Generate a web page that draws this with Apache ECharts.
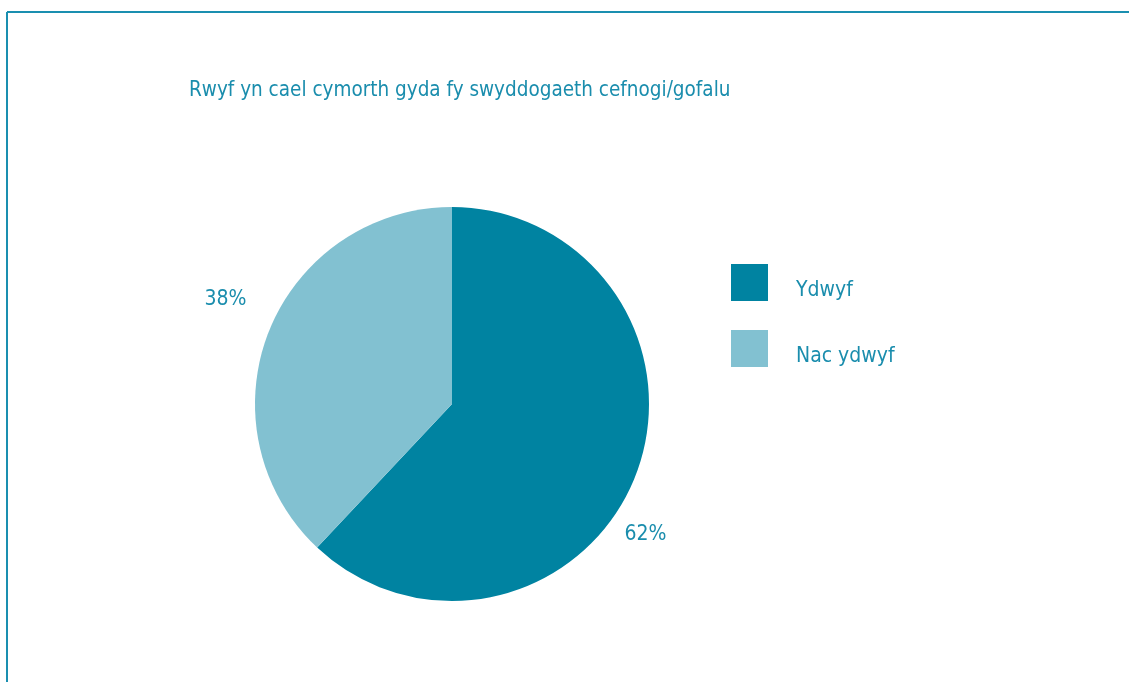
<!DOCTYPE html>
<html>
<head>
<meta charset="utf-8">
<script src="https://cdn.jsdelivr.net/npm/echarts@6/dist/echarts.min.js"></script>
<style>
html,body{margin:0;padding:0;background:#fff;}
#chart{width:1129px;height:682px;}
</style>
</head>
<body>
<div id="chart"></div>
<script>
var titleText = 'Rwyf yn cael cymorth gyda fy swyddogaeth cefnogi/gofalu';
var categories = ['Ydwyf', 'Nac ydwyf'];
var values = [62, 38];
var colors = ['#0083A1', '#82C1D1'];

var FONT = '"Liberation Sans Narrow", "DejaVu Sans Condensed", "Roboto", sans-serif';
var TEXT = '#1A8DAD';
var labelOffsets = [[-25, 54], [-8, -28]];

var chart = echarts.init(document.getElementById('chart'));
chart.setOption({
  animation: false,
  title: {
    text: titleText,
    left: 184,
    top: 75,
    textStyle: { fontFamily: FONT, fontSize: 20.5, fontWeight: 'normal', color: TEXT }
  },
  legend: {
    orient: 'vertical',
    left: 726,
    top: 259,
    icon: 'rect',
    itemWidth: 37,
    itemHeight: 37,
    itemGap: 29,
    formatter: '{a|{name}}',
    textStyle: {
      fontFamily: FONT, fontSize: 21, color: TEXT, padding: [0, 0, 0, 23],
      rich: { a: { fontFamily: FONT, fontSize: 21, color: TEXT, padding: [16, 0, 0, 0] } }
    },
    data: categories
  },
  graphic: [
    { type: 'line', shape: { x1: 7, y1: 12, x2: 1129, y2: 12 }, style: { stroke: '#1A8FB0', lineWidth: 2 } },
    { type: 'line', shape: { x1: 7, y1: 12, x2: 7, y2: 682 }, style: { stroke: '#1A8FB0', lineWidth: 2 } }
  ],
  series: [{
    type: 'pie',
    center: [452, 404],
    radius: 197,
    startAngle: 90,
    clockwise: true,
    silent: true,
    label: {
      show: true,
      position: 'outside',
      formatter: '{c}%',
      fontFamily: FONT,
      fontSize: 21,
      color: TEXT
    },
    labelLine: { show: false, length: 10, length2: 0 },
    data: categories.map(function (c, i) {
      return {
        name: c,
        value: values[i],
        itemStyle: { color: colors[i] },
        label: { offset: labelOffsets[i] }
      };
    })
  }]
});
</script>
</body>
</html>
